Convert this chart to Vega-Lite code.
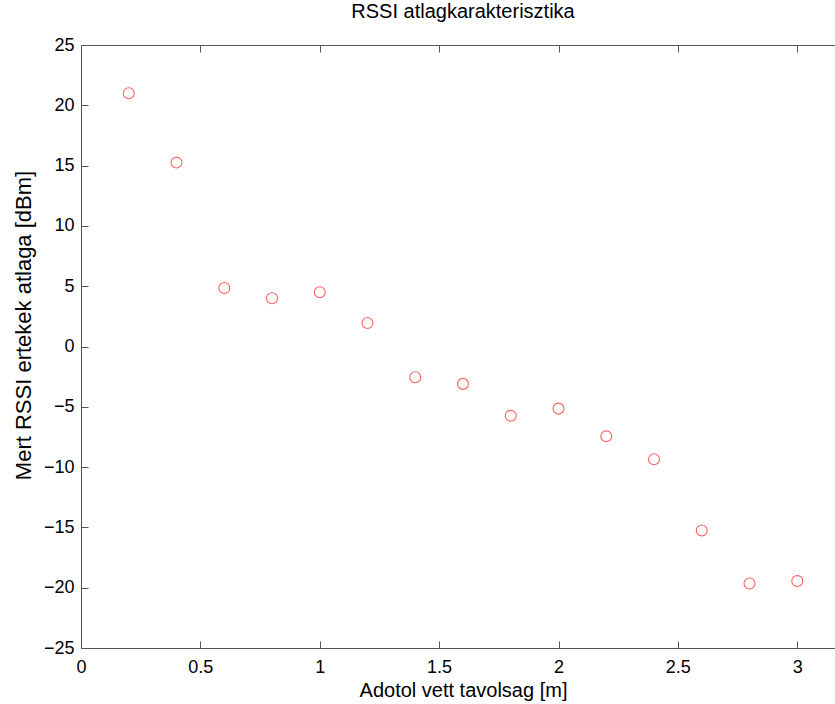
{
  "$schema": "https://vega.github.io/schema/vega-lite/v6.json",
  "autosize": "none",
  "width": 764,
  "height": 603,
  "padding": {"left": 81, "top": 45, "right": 0, "bottom": 56},
  "background": "white",
  "title": {"text": "RSSI atlagkarakterisztika", "font": "Liberation Sans", "fontSize": 20, "fontWeight": "normal", "color": "black", "offset": 14},
  "config": {
    "view": {"stroke": "#555", "strokeWidth": 1},
    "axis": {"grid": false, "labelFlush": false, "domainColor": "#555", "tickColor": "#555", "tickSize": -7, "labelFont": "Liberation Sans", "labelFontSize": 18, "labelColor": "black", "titleFont": "Liberation Sans", "titleFontSize": 20, "titleFontWeight": "normal", "titleColor": "black"}
  },
  "data": {"values": [
    {"d": 0.2, "rssi": 21.0},
    {"d": 0.4, "rssi": 15.25},
    {"d": 0.6, "rssi": 4.85},
    {"d": 0.8, "rssi": 4.0},
    {"d": 1.0, "rssi": 4.5},
    {"d": 1.2, "rssi": 1.95},
    {"d": 1.4, "rssi": -2.55},
    {"d": 1.6, "rssi": -3.1},
    {"d": 1.8, "rssi": -5.75},
    {"d": 2.0, "rssi": -5.15},
    {"d": 2.2, "rssi": -7.45},
    {"d": 2.4, "rssi": -9.35},
    {"d": 2.6, "rssi": -15.25},
    {"d": 2.8, "rssi": -19.65},
    {"d": 3.0, "rssi": -19.45}
  ]},
  "layer": [
    {
      "mark": {"type": "point", "shape": "circle", "filled": false, "color": "#ff2020", "size": 120, "strokeWidth": 1.1},
      "encoding": {
        "x": {"field": "d", "type": "quantitative", "scale": {"domain": [0, 3.2], "nice": false, "zero": false},
              "axis": {"title": "Adotol vett tavolsag [m]", "values": [0, 0.5, 1, 1.5, 2, 2.5, 3], "format": "~g", "labelPadding": 17, "titlePadding": 4, "orient": "bottom"}},
        "y": {"field": "rssi", "type": "quantitative", "scale": {"domain": [-25, 25], "nice": false, "zero": false},
              "axis": {"title": "Mert RSSI ertekek atlaga [dBm]", "titleFontSize": 22, "titleY": 280, "values": [-25, -20, -15, -10, -5, 0, 5, 10, 15, 20, 25], "labelPadding": 14, "titlePadding": 8}}
      }
    },
    {
      "mark": {"type": "point", "opacity": 0},
      "encoding": {
        "x": {"field": "d", "type": "quantitative", "scale": {"domain": [0, 3.2], "nice": false, "zero": false},
              "axis": {"orient": "top", "title": null, "labels": false, "values": [0, 0.5, 1, 1.5, 2, 2.5, 3]}},
        "y": {"field": "rssi", "type": "quantitative"}
      }
    }
  ],
  "resolve": {"axis": {"x": "independent"}}
}
